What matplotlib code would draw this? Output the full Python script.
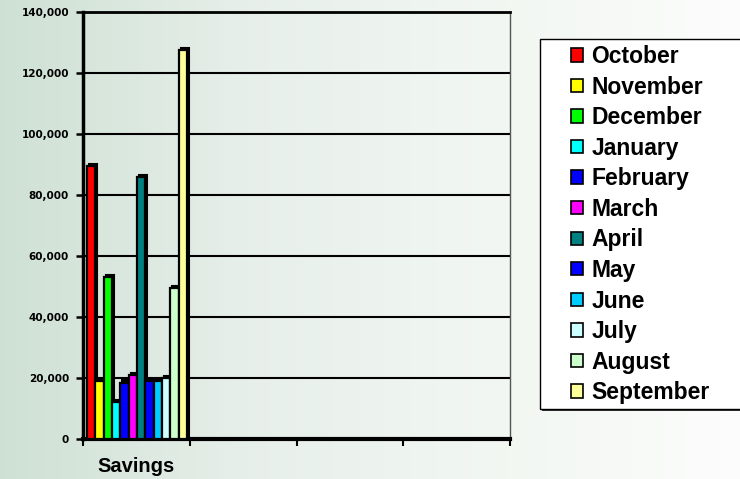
import numpy as np
import matplotlib
matplotlib.use("Agg")
from matplotlib import pyplot as plt
from matplotlib.patches import Rectangle
from matplotlib.font_manager import FontProperties

# Monthly savings, one bar per month inside the single "Savings" slot
categories = ["Savings"]
n_slots = 4
months = ["October", "November", "December", "January", "February", "March",
          "April", "May", "June", "July", "August", "September"]
savings = [89500, 19000, 53000, 12000, 18500, 21000,
           86000, 19000, 19000, 20000, 49500, 127500]
colors = ["#FF0000", "#FFFF00", "#00FF00", "#00FFFF", "#0000FF", "#FF00FF",
          "#008080", "#0000FF", "#00CCFF", "#CCFFFF", "#CCFFCC", "#FFFF99"]
y_ticks = [0, 20000, 40000, 60000, 80000, 100000, 120000, 140000]

W, H = 740, 479
fig = plt.figure(figsize=(W / 100, H / 100), dpi=100)

# greenish-to-white horizontal background wash
bg = fig.add_axes([0, 0, 1, 1], zorder=-10)
xs = np.linspace(0, 1, 400)
stops_x = [0.0, 0.35, 0.7, 1.0]
stops_c = np.array([[0.81, 0.88, 0.83], [0.91, 0.94, 0.92],
                    [0.95, 0.97, 0.95], [0.99, 0.99, 0.99]])
grad = np.stack([np.interp(xs, stops_x, stops_c[:, i]) for i in range(3)], axis=-1)
bg.imshow(grad[np.newaxis, :, :], aspect="auto", extent=[0, 1, 0, 1])
bg.axis("off")

ax = fig.add_axes([83 / W, 1 - 439 / H, (510 - 83) / W, (439 - 12) / H])
ax.set_facecolor("none")

bar_w = 0.078
x0 = 0.037
xpos = x0 + bar_w * (np.arange(len(months)) + 0.5)

# dark copy shifted up/right gives the bars a little depth
dx, dy = 0.02, 700
ax.bar(xpos + dx, savings, width=bar_w, bottom=dy, color="black",
       edgecolor="black", linewidth=1.5, zorder=3)
bars = ax.bar(xpos, savings, width=bar_w, color=colors, edgecolor="black",
              linewidth=1.6, zorder=4)

ax.set_xlim(0, n_slots)
ax.set_ylim(0, 140000)
ax.set_yticks(y_ticks)
ax.set_yticklabels([f"{v:,}" for v in y_ticks], fontsize=7.5,
                   fontweight="bold", family="DejaVu Sans")
ax.yaxis.grid(True, color="black", linewidth=1.5, zorder=1)
ax.set_axisbelow(True)

ax.set_xticks(range(n_slots + 1))
ax.set_xticklabels([""] * (n_slots + 1))
ax.set_xticks([0.5], minor=True)
ax.set_xticklabels(categories, minor=True, fontsize=14.5, fontweight="bold",
                   family="Liberation Sans")
ax.tick_params(axis="x", which="major", direction="out", length=5, width=1.5)
ax.tick_params(axis="x", which="minor", length=0, pad=13)
ax.tick_params(axis="y", direction="out", length=5, width=1.8, pad=5)

ax.spines["left"].set_linewidth(2.5)
ax.spines["bottom"].set_linewidth(3)
ax.spines["top"].set_linewidth(2)
ax.spines["right"].set_linewidth(1)
ax.spines["right"].set_color("#555555")

# legend box with a drop shadow, clipped by the right edge
lx0, ly0, lx1, ly1 = 540, 39, 760, 409
fig.patches.append(Rectangle((lx0 / W + 1.5 / W, 1 - ly1 / H - 1.5 / H),
                             (lx1 - lx0) / W, (ly1 - ly0) / H,
                             transform=fig.transFigure, facecolor="#333333",
                             edgecolor="none", zorder=1))
fig.patches.append(Rectangle((lx0 / W, 1 - ly1 / H), (lx1 - lx0) / W,
                             (ly1 - ly0) / H, transform=fig.transFigure,
                             facecolor="white", edgecolor="black",
                             linewidth=1, zorder=2))

handles = [Rectangle((0, 0), 1, 1, facecolor=c, edgecolor="black", linewidth=1.2)
           for c in colors]
leg = fig.legend(handles, months, loc="upper left",
                 bbox_to_anchor=(571 / W, 1 - 45 / H), frameon=False,
                 prop=FontProperties(family="Liberation Sans", weight="bold",
                                     size=16.5),
                 handlelength=0.52, handleheight=0.52, handletextpad=0.38,
                 labelspacing=0.33, borderpad=0, borderaxespad=0)
leg.set_zorder(5)

fig.savefig("out.png", dpi=100)
